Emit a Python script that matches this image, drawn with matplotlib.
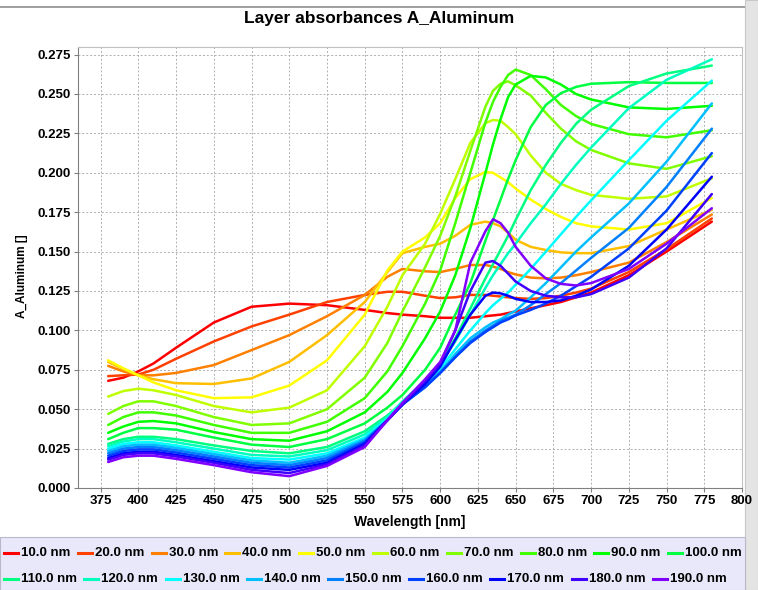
#!/usr/bin/env python3
"""Layer absorbances A_Aluminum - absorbance spectra for layer thicknesses 10-190 nm."""
import colorsys
import matplotlib
matplotlib.use("Agg")
import matplotlib.pyplot as plt
from matplotlib.patches import Rectangle
from matplotlib.lines import Line2D

plt.rcParams['font.family'] = ['Liberation Sans', 'DejaVu Sans']

wavelength = [380, 390, 400, 410, 425, 450, 475, 500, 525, 550, 565, 575, 590, 600, 610,
              620, 630, 635, 640, 645, 650, 660, 670, 680, 690, 700, 725, 750, 780]

thickness = [10, 20, 30, 40, 50, 60, 70, 80, 90, 100, 110, 120, 130, 140, 150, 160, 170, 180, 190]

a_10 = [.068, .070, .074, .079, .089, .105, .115, .117, .116, .113, .111, .110, .109, .108, .108,
        .108, .109, .1095, .110, .111, .112, .114, .116, .118, .121, .124, .135, .150, .169]
a_20 = [.071, .0715, .072, .075, .082, .093, .1025, .110, .118, .1225, .1245, .1245, .122, .1205, .121,
        .1225, .1225, .122, .1215, .121, .1205, .120, .1205, .122, .124, .1265, .137, .1515, .171]
a_30 = [.0775, .074, .0715, .0715, .073, .078, .0875, .097, .109, .1225, .134, .139, .1375, .137, .139,
        .1415, .1415, .1405, .139, .137, .1355, .1335, .133, .1335, .135, .137, .143, .156, .1735]
a_40 = [.080, .0755, .0715, .069, .0665, .066, .0695, .080, .097, .118, .137, .149, .153, .155, .160,
        .167, .169, .168, .166, .162, .1575, .153, .151, .1495, .149, .149, .1535, .164, .1765]
a_50 = [.081, .076, .0715, .067, .062, .057, .0575, .065, .081, .110, .138, .150, .159, .168, .184,
        .196, .2005, .200, .197, .194, .190, .183, .177, .172, .168, .166, .164, .168, .184]
a_60 = [.058, .0615, .063, .062, .059, .052, .048, .051, .062, .090, .115, .135, .155, .174, .196,
        .219, .2315, .2335, .233, .229, .2245, .211, .200, .193, .189, .186, .1835, .185, .1965]
a_70 = [.047, .052, .055, .055, .052, .045, .040, .041, .050, .070, .092, .112, .140, .160, .185,
        .214, .242, .252, .2565, .258, .2555, .249, .238, .228, .220, .2145, .206, .2025, .2105]
a_80 = [.040, .045, .048, .048, .046, .040, .035, .035, .042, .057, .074, .090, .117, .138, .168,
        .200, .232, .245, .2545, .262, .2655, .262, .253, .243, .236, .231, .2245, .2225, .227]
a_90 = [.035, .039, .042, .0425, .041, .0355, .031, .030, .036, .048, .061, .073, .095, .112, .135,
        .165, .200, .218, .234, .248, .256, .2615, .2605, .256, .250, .2465, .2415, .2405, .2425]
a_100 = [.031, .035, .038, .038, .037, .032, .0275, .026, .031, .041, .051, .059, .075, .089, .110,
         .130, .157, .170, .183, .196, .208, .229, .243, .2505, .2545, .2565, .2575, .257, .257]
a_110 = [.028, .031, .0325, .0325, .031, .027, .0235, .022, .026, .036, .046, .054, .068, .079, .095,
         .114, .133, .142, .151, .160, .170, .189, .205, .219, .231, .240, .255, .263, .268]
a_120 = [.0265, .0295, .031, .031, .029, .025, .021, .020, .024, .034, .045, .055, .068, .079, .093,
         .110, .127, .135, .142, .149, .155, .168, .180, .193, .205, .216, .241, .259, .272]
a_130 = [.025, .028, .029, .029, .027, .023, .019, .018, .022, .032, .044, .054, .066, .076, .088,
         .100, .111, .116, .120, .124, .129, .139, .150, .161, .172, .1825, .208, .233, .2585]
a_140 = [.0235, .0265, .0275, .0275, .0255, .0215, .0175, .016, .0205, .031, .043, .053, .065, .074, .085,
         .095, .102, .105, .107, .110, .1125, .121, .130, .140, .150, .159, .1805, .207, .244]
a_150 = [.022, .025, .026, .026, .024, .020, .016, .0145, .019, .030, .043, .053, .064, .073, .083,
         .093, .100, .103, .106, .108, .110, .116, .123, .130, .138, .146, .165, .191, .228]
a_160 = [.0205, .0235, .0245, .0245, .0225, .0185, .0145, .013, .0175, .029, .043, .053, .064, .073, .083,
         .092, .099, .102, .105, .107, .1095, .113, .117, .122, .128, .134, .152, .176, .2125]
a_170 = [.019, .022, .023, .023, .021, .017, .013, .0115, .016, .028, .043, .053, .066, .077, .094,
         .110, .122, .124, .1235, .122, .120, .118, .118, .119, .122, .126, .141, .164, .1975]
a_180 = [.018, .021, .022, .022, .020, .016, .0115, .0095, .015, .027, .043, .053, .068, .079, .100,
         .125, .143, .144, .141, .136, .131, .125, .122, .121, .121, .123, .1335, .152, .1865]
a_190 = [.0165, .0195, .0205, .0205, .0185, .0145, .010, .0075, .014, .026, .043, .054, .069, .080, .100,
         .143, .163, .1705, .168, .162, .153, .141, .133, .1295, .1285, .130, .139, .155, .1775]

series = [a_10, a_20, a_30, a_40, a_50, a_60, a_70, a_80, a_90, a_100,
          a_110, a_120, a_130, a_140, a_150, a_160, a_170, a_180, a_190]

x_ticks = list(range(375, 801, 25))
y_ticks = [i * 0.025 for i in range(12)]

W, H = 758, 590
fig = plt.figure(figsize=(W / 100, H / 100), dpi=100)
fig.patch.set_facecolor('white')

# window decorations: top rule, right-hand scroll strip, legend panel
fig.add_artist(Rectangle((0, 1 - 8 / H), 745 / W, 1.5 / H, transform=fig.transFigure,
                         facecolor='#a0a0a0', edgecolor='none', zorder=0))
fig.add_artist(Rectangle((745 / W, 0), 13 / W, 1, transform=fig.transFigure,
                         facecolor='#e4e4e4', edgecolor='#c8c8c8', lw=0.8, zorder=0))
fig.add_artist(Rectangle((0, 0), 745 / W, 53 / H, transform=fig.transFigure,
                         facecolor='#e8e8fa', edgecolor='#b8b8c8', lw=0.8, zorder=0))

ax = fig.add_axes([78 / W, 1 - 488 / H, (742 - 78) / W, (488 - 46.7) / H])
ax.set_zorder(1)
n = len(thickness)
colors = [colorsys.hsv_to_rgb(0.75 * i / (n - 1), 1.0, 1.0) for i in range(n)]
labels = [f"{t:.1f} nm" for t in thickness]
for vals, color, lab in zip(series, colors, labels):
    ax.plot(wavelength, vals, color=color, lw=1.8, label=lab,
            solid_joinstyle='round', solid_capstyle='round')

ax.set_xlim(360, 800)
ax.set_ylim(0, 0.28)
ax.set_xticks(x_ticks)
ax.set_yticks(y_ticks)
ax.set_yticklabels([f"{v:.3f}" for v in y_ticks])
ax.grid(True, color='#b0b0b0', linestyle=(0, (2, 2)), lw=0.7)
for s in ax.spines.values():
    s.set_color('#c0c0c0')
    s.set_linewidth(0.8)
ax.spines['left'].set_color('#808080')
ax.spines['bottom'].set_color('#808080')
ax.tick_params(labelsize=9.5, length=3, color='#808080', pad=2)
for lab in ax.get_xticklabels() + ax.get_yticklabels():
    lab.set_fontweight('bold')

ax.set_xlabel("Wavelength [nm]", fontsize=10, fontweight='bold', labelpad=6)
ax.set_ylabel("A_Aluminum []", fontsize=8.5, fontweight='bold')
ax.yaxis.set_label_coords(-0.076, 0.48)
fig.text(0.5, 1 - 19 / H, "Layer absorbances A_Aluminum", ha='center', va='center',
         fontsize=12.5, fontweight='bold')

# legend: flow layout like the original panel, items packed left to right
renderer = fig.canvas.get_renderer()
rows = [(553, range(0, 10)), (579, range(10, n))]
for y_px, idx in rows:
    x_px = 4
    yf = 1 - y_px / H
    for k in idx:
        fig.add_artist(Line2D([x_px / W, (x_px + 14) / W], [yf, yf], transform=fig.transFigure,
                              color=colors[k], lw=2.2, zorder=2))
        t = fig.text((x_px + 17) / W, yf, labels[k], ha='left', va='center',
                     fontsize=9.5, fontweight='bold', zorder=2)
        w = t.get_window_extent(renderer).width
        x_px += 17 + w + 7.4

fig.savefig("out.png", dpi=100)
